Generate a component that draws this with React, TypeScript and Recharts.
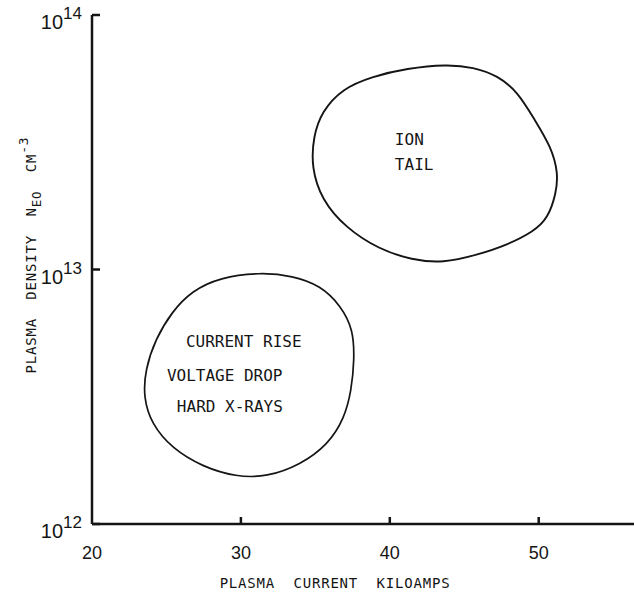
import React from 'react';
import { ScatterChart, Scatter, XAxis, YAxis } from 'recharts';

// Axis ticks
const currentTicks = [20, 30, 40, 50];
const densityTicks = [1e12, 1e13, 1e14];
const currentDomain = [20, 56.4];
const densityDomain = [1e12, 1e14];

// Region outline: current rise / voltage drop / hard x-rays (kA, cm^-3)
const lowRegion = [
  { x: 28.59, y: 9.3e12 },
  { x: 31.28, y: 9.75e12 },
  { x: 33.49, y: 9.45e12 },
  { x: 35.35, y: 8.65e12 },
  { x: 36.72, y: 7.2e12 },
  { x: 37.55, y: 5.8e12 },
  { x: 37.62, y: 4.41e12 },
  { x: 37.42, y: 3.34e12 },
  { x: 36.95, y: 2.6e12 },
  { x: 35.85, y: 2.05e12 },
  { x: 34.0, y: 1.71e12 },
  { x: 31.74, y: 1.53e12 },
  { x: 29.7, y: 1.53e12 },
  { x: 27.4, y: 1.68e12 },
  { x: 25.38, y: 1.98e12 },
  { x: 24.0, y: 2.47e12 },
  { x: 23.45, y: 3.15e12 },
  { x: 23.58, y: 4.05e12 },
  { x: 24.26, y: 5.32e12 },
  { x: 25.36, y: 6.82e12 },
  { x: 26.72, y: 8.25e12 },
];

// Region outline: ion tail
const ionTailRegion = [
  { x: 43.83, y: 6.4e13 },
  { x: 45.6, y: 6.24e13 },
  { x: 47.25, y: 5.78e13 },
  { x: 48.6, y: 4.98e13 },
  { x: 49.7, y: 3.9e13 },
  { x: 50.84, y: 3.03e13 },
  { x: 51.31, y: 2.39e13 },
  { x: 51.17, y: 1.99e13 },
  { x: 50.62, y: 1.59e13 },
  { x: 49.66, y: 1.41e13 },
  { x: 47.9, y: 1.25e13 },
  { x: 45.86, y: 1.14e13 },
  { x: 43.56, y: 1.06e13 },
  { x: 41.5, y: 1.09e13 },
  { x: 39.27, y: 1.2e13 },
  { x: 37.03, y: 1.46e13 },
  { x: 35.42, y: 1.88e13 },
  { x: 34.73, y: 2.53e13 },
  { x: 34.87, y: 3.34e13 },
  { x: 35.42, y: 4.16e13 },
  { x: 36.8, y: 5.14e13 },
  { x: 38.84, y: 5.74e13 },
  { x: 41.14, y: 6.17e13 },
];

// Region annotations (left edge / baseline)
const annotations = [
  { x: 40.34, y: 3.08e13, text: 'ION' },
  { x: 40.34, y: 2.46e13, text: 'TAIL' },
  { x: 26.31, y: 4.96e12, text: 'CURRENT RISE' },
  { x: 25.03, y: 3.65e12, text: 'VOLTAGE DROP' },
  { x: 25.7, y: 2.75e12, text: 'HARD X-RAYS' },
];

const xLabelText = 'PLASMA\u00a0\u00a0CURRENT\u00a0\u00a0KILOAMPS';

const MONO = "'DejaVu Sans Mono', 'Liberation Mono', monospace";
const NUM = "'Liberation Sans Narrow', 'Liberation Sans', sans-serif";
const INK = '#151515';

const YTick = (props: any) => {
  const { x, y, payload } = props;
  const exp = Math.round(Math.log10(payload.value));
  return (
    <g>
      <line x1={x} y1={y} x2={x + 8} y2={y} stroke={INK} strokeWidth={2.5} />
      <text x={x - 10} y={y + 14} textAnchor="end" fontFamily={NUM} fill={INK}>
        <tspan fontSize={20}>10</tspan>
        <tspan fontSize={17} dy={-10}>{exp}</tspan>
      </text>
    </g>
  );
};

const XTick = (props: any) => {
  const { x, y, payload } = props;
  return (
    <g>
      {payload.value !== currentDomain[0] && (
        <line x1={x} y1={y} x2={x} y2={y - 7} stroke={INK} strokeWidth={2.5} />
      )}
      <text x={x} y={y + 35} textAnchor="middle" fontFamily={NUM} fontSize={18} fill={INK}>
        {payload.value}
      </text>
    </g>
  );
};

const XLabel = (props: any) => {
  const { viewBox } = props;
  return (
    <text
      x={viewBox.x + 243}
      y={viewBox.y + 64}
      textAnchor="middle"
      fontFamily={MONO}
      fontSize={14}
      letterSpacing={0.8}
      fill={INK}
    >
      {xLabelText}
    </text>
  );
};

const YLabel = (props: any) => {
  const { viewBox } = props;
  const cx = viewBox.x + 36;
  const cy = viewBox.y + 240;
  return (
    <text
      x={cx}
      y={cy}
      transform={`rotate(-90, ${cx}, ${cy})`}
      textAnchor="middle"
      fontFamily={MONO}
      fontSize={14}
      letterSpacing={0.8}
      fill={INK}
    >
      <tspan>{'PLASMA\u00a0\u00a0DENSITY\u00a0\u00a0N'}</tspan>
      <tspan fontSize={12.5} dy={5}>EO</tspan>
      <tspan dy={-5}>{'\u00a0\u00a0CM'}</tspan>
      <tspan fontSize={13} dy={-8}>-3</tspan>
    </text>
  );
};

const NoPoint = () => <g />;

const AnnotationText = (props: any) => {
  const { cx, cy, payload } = props;
  return (
    <text x={cx} y={cy} fontFamily={MONO} fontSize={16} fill={INK}>
      {payload.text}
    </text>
  );
};

export default function App() {
  return (
    <div style={{ position: 'absolute', left: 0, top: 0, background: '#fff' }}>
      <ScatterChart width={634} height={592} margin={{ top: 15, right: 0, bottom: 0, left: 0 }}>
        <XAxis
          type="number"
          dataKey="x"
          domain={currentDomain}
          ticks={currentTicks}
          interval={0}
          allowDataOverflow
          height={68}
          tickSize={0}
          tickMargin={0}
          tickLine={false}
          axisLine={{ stroke: INK, strokeWidth: 2.5 }}
          tick={<XTick />}
          label={{ content: <XLabel /> }}
        />
        <YAxis
          type="number"
          dataKey="y"
          scale="log"
          domain={densityDomain}
          ticks={densityTicks}
          interval={0}
          allowDataOverflow
          width={92}
          tickSize={0}
          tickMargin={0}
          tickLine={false}
          axisLine={{ stroke: INK, strokeWidth: 2.5 }}
          tick={<YTick />}
          label={{ content: <YLabel /> }}
        />
        <Scatter
          data={lowRegion}
          line={{ stroke: INK, strokeWidth: 1.7 }}
          lineJointType="basisClosed"
          shape={<NoPoint />}
          isAnimationActive={false}
        />
        <Scatter
          data={ionTailRegion}
          line={{ stroke: INK, strokeWidth: 1.9 }}
          lineJointType="basisClosed"
          shape={<NoPoint />}
          isAnimationActive={false}
        />
        <Scatter
          data={annotations}
          shape={<AnnotationText />}
          isAnimationActive={false}
        />
      </ScatterChart>
    </div>
  );
}
